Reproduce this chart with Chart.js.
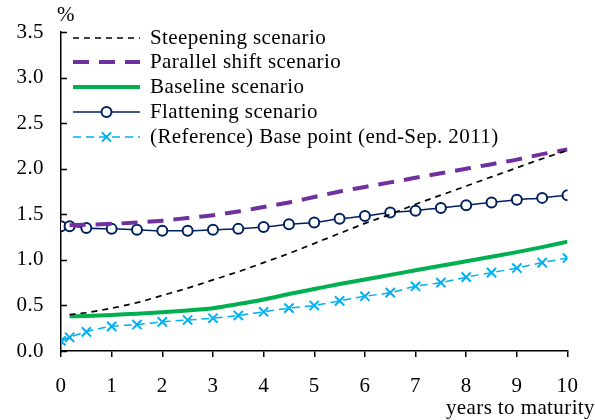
<!DOCTYPE html>
<html>
<head>
<meta charset="utf-8">
<script src="https://cdn.jsdelivr.net/npm/chart.js@4/dist/chart.umd.min.js"></script>
<style>
  html, body { margin: 0; padding: 0; background: #fff; }
  #wrap { width: 595px; height: 420px; position: relative; }
</style>
</head>
<body>
<div id="wrap"><canvas id="c" width="595" height="420"></canvas></div>
<script>
// Maturities (years) and yield curves (%) for each scenario
const maturities = [0, 0.17, 0.5, 1, 1.5, 2, 2.5, 3, 3.5, 4, 4.5, 5, 5.5, 6, 6.5, 7, 7.5, 8, 8.5, 9, 9.5, 10];
const steepening = [null, 0.40, 0.42, 0.47, 0.53, 0.61, 0.69, 0.78, 0.87, 0.97, 1.07, 1.18, 1.29, 1.40, 1.50, 1.61, 1.71, 1.81, 1.91, 2.01, 2.11, 2.20];
const parallelShift = [null, 1.38, 1.385, 1.395, 1.41, 1.43, 1.46, 1.49, 1.53, 1.58, 1.63, 1.69, 1.75, 1.80, 1.85, 1.90, 1.95, 2.00, 2.05, 2.10, 2.16, 2.21];
const baseline = [null, 0.38, 0.385, 0.395, 0.41, 0.425, 0.445, 0.47, 0.515, 0.565, 0.625, 0.68, 0.735, 0.785, 0.835, 0.885, 0.935, 0.985, 1.035, 1.085, 1.14, 1.20];
const flattening = [1.37, 1.37, 1.35, 1.34, 1.33, 1.32, 1.32, 1.33, 1.34, 1.36, 1.39, 1.41, 1.45, 1.48, 1.52, 1.54, 1.57, 1.60, 1.63, 1.66, 1.68, 1.71];
const basePoint = [0.11, 0.15, 0.21, 0.27, 0.29, 0.32, 0.34, 0.36, 0.39, 0.43, 0.47, 0.50, 0.55, 0.60, 0.64, 0.71, 0.75, 0.81, 0.86, 0.91, 0.97, 1.02];

const seriesNames = [
  'Steepening scenario',
  'Parallel shift scenario',
  'Baseline scenario',
  'Flattening scenario',
  '(Reference) Base point (end-Sep. 2011)'
];
const yTicks = [0, 0.5, 1, 1.5, 2, 2.5, 3, 3.5];
const xTicks = [0, 1, 2, 3, 4, 5, 6, 7, 8, 9, 10];
const yUnit = '%';
const xTitle = 'years to maturity';

const FONT = "'Liberation Serif', 'Times New Roman', serif";
const FONT_SIZE = 21;
const SPACING = '0.4px';

function toPoints(values) {
  return maturities.map((m, i) => ({ x: m, y: values[i] }));
}

const datasets = [
  { label: seriesNames[0], data: toPoints(steepening), borderColor: '#000000', borderWidth: 1.7,
    borderDash: [6, 5], pointRadius: 0, cubicInterpolationMode: 'monotone' },
  { label: seriesNames[1], data: toPoints(parallelShift), borderColor: '#7030A0', borderWidth: 4,
    borderDash: [16, 10], pointRadius: 0, cubicInterpolationMode: 'monotone' },
  { label: seriesNames[2], data: toPoints(baseline), borderColor: '#00B050', borderWidth: 4,
    pointRadius: 0, cubicInterpolationMode: 'monotone' },
  { label: seriesNames[3], data: toPoints(flattening), borderColor: '#002060', borderWidth: 1.5,
    pointStyle: 'circle', pointRadius: 5, pointBorderWidth: 2, pointBackgroundColor: '#ffffff',
    pointBorderColor: '#002060', cubicInterpolationMode: 'monotone' },
  { label: seriesNames[4], data: toPoints(basePoint), borderColor: '#00B0F0', borderWidth: 1.5,
    borderDash: [8, 5], pointStyle: 'crossRot', pointRadius: 6.5, pointBorderWidth: 2,
    pointBorderColor: '#00B0F0', cubicInterpolationMode: 'monotone' }
];

// Slightly open letter spacing for all text drawn on the canvas
const spacing = {
  id: 'spacing',
  beforeDraw(chart) { chart.ctx.letterSpacing = SPACING; }
};

// Inward tick marks on the value axis, unit label, axis title and the legend
const decorations = {
  id: 'decorations',
  afterDraw(chart) {
    const ctx = chart.ctx;
    const y = chart.scales.y;
    ctx.save();
    ctx.letterSpacing = SPACING;
    ctx.strokeStyle = '#000';
    ctx.lineWidth = 1.5;
    yTicks.forEach(v => {
      const py = Math.round(y.getPixelForValue(v)) + 0.5;
      ctx.beginPath();
      ctx.moveTo(y.right, py);
      ctx.lineTo(y.right + 6, py);
      ctx.stroke();
    });

    ctx.fillStyle = '#000';
    ctx.font = FONT_SIZE + 'px ' + FONT;
    ctx.textBaseline = 'middle';
    ctx.textAlign = 'left';
    ctx.fillText(yUnit, 57, 15);
    ctx.textAlign = 'right';
    ctx.fillText(xTitle, 595, 408);

    // legend
    const x0 = 73, x1 = 140, tx = 150;
    const rows = [38, 62, 87, 112, 137];
    chart.data.datasets.forEach((ds, i) => {
      const ry = rows[i];
      ctx.save();
      ctx.strokeStyle = ds.borderColor;
      ctx.lineWidth = ds.borderWidth;
      ctx.setLineDash(ds.borderDash || []);
      ctx.beginPath();
      ctx.moveTo(x0, ry);
      ctx.lineTo(x1, ry);
      ctx.stroke();
      ctx.restore();
      if (ds.pointRadius) {
        const mx = (x0 + x1) / 2;
        ctx.save();
        ctx.lineWidth = ds.pointBorderWidth;
        ctx.strokeStyle = ds.pointBorderColor;
        ctx.fillStyle = ds.pointBackgroundColor || '#fff';
        Chart.helpers.drawPoint(ctx, {
          pointStyle: ds.pointStyle, radius: ds.pointRadius, rotation: 0, borderWidth: ds.pointBorderWidth
        }, mx, ry);
        ctx.restore();
      }
      ctx.fillStyle = '#000';
      ctx.textAlign = 'left';
      ctx.textBaseline = 'middle';
      ctx.fillText(ds.label, tx, ry);
    });
    ctx.restore();
  }
};

new Chart(document.getElementById('c'), {
  type: 'line',
  data: { datasets },
  options: {
    responsive: false,
    animation: false,
    events: [],
    layout: { padding: { top: 32, right: 25, left: 0, bottom: 0 } },
    plugins: { legend: { display: false }, tooltip: { enabled: false } },
    scales: {
      x: {
        type: 'linear', min: 0, max: 10,
        afterFit(scale) { scale.height = 69; },
        afterBuildTicks(scale) { scale.ticks = xTicks.map(v => ({ value: v })); },
        grid: { display: true, drawOnChartArea: false, drawTicks: true, tickLength: 6,
                color: '#000', lineWidth: 1.5 },
        border: { display: true, color: '#000', width: 1.5 },
        ticks: { color: '#000', font: { family: FONT, size: FONT_SIZE }, padding: 17, maxRotation: 0,
                 callback: v => String(v) }
      },
      y: {
        min: 0, max: 3.5,
        afterFit(scale) { scale.width = 61; },
        afterBuildTicks(scale) { scale.ticks = yTicks.map(v => ({ value: v })); },
        grid: { display: true, drawOnChartArea: false, drawTicks: false },
        border: { display: true, color: '#000', width: 1.5 },
        ticks: { color: '#000', font: { family: FONT, size: FONT_SIZE }, padding: 17,
                 callback: v => Number(v).toFixed(1) }
      }
    }
  },
  plugins: [spacing, decorations]
});
</script>
</body>
</html>
